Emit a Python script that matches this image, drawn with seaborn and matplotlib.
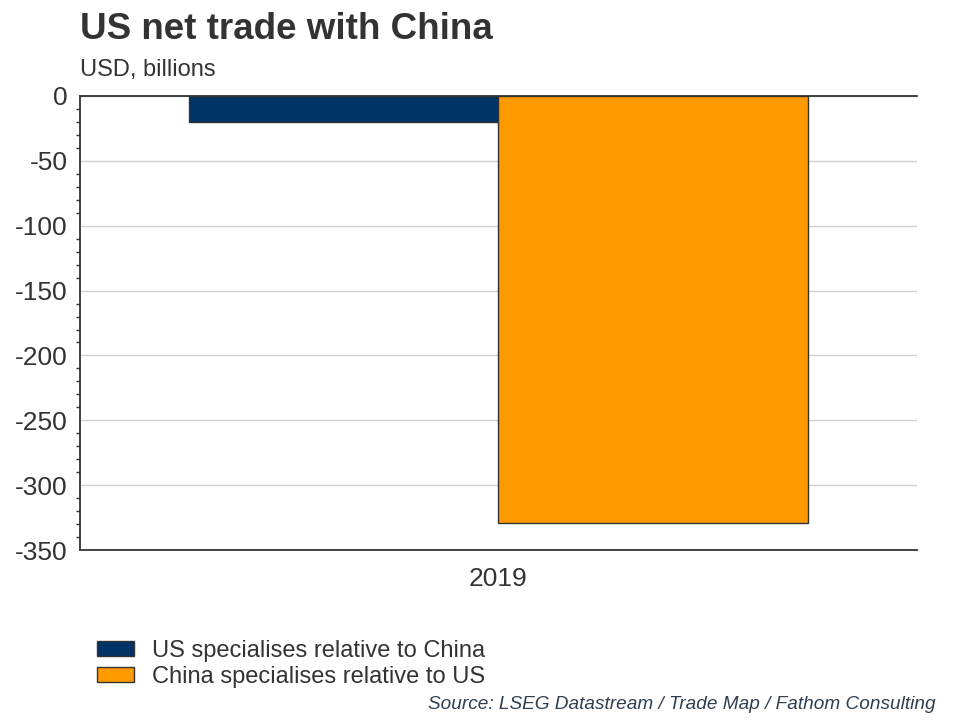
import pandas as pd
import matplotlib.pyplot as plt
import matplotlib.patches as mpatches
from matplotlib.ticker import MultipleLocator
import seaborn as sns

# Data
years = ["2019"]
series = ["US specialises relative to China", "China specialises relative to US"]
us_values = [-20]
china_values = [-329]
colors = ["#003366", "#FF9900"]

df = pd.DataFrame({
    "year": years * 2,
    "series": [series[0]] * len(years) + [series[1]] * len(years),
    "value": us_values + china_values,
})

sns.set_style("white")
plt.rcParams["font.family"] = ["Liberation Sans", "DejaVu Sans"]
plt.rcParams["axes.unicode_minus"] = False
text_color = "#333333"

fig = plt.figure(figsize=(9.6, 7.2), dpi=100)
ax = fig.add_axes([0.0833, 0.236, 0.8717, 0.6307])

sns.barplot(data=df, x="year", y="value", hue="series", palette=colors,
            saturation=1, width=0.74, edgecolor="#333333", linewidth=1,
            legend=False, ax=ax)

ax.set_ylim(-350, 0)
ax.set_xlim(-0.5, 0.5)
ax.yaxis.set_major_locator(MultipleLocator(50))
ax.yaxis.set_minor_locator(MultipleLocator(10))
ax.yaxis.grid(True, color="#d0d0d0", linewidth=1)
ax.set_axisbelow(True)

for side in ["left", "bottom", "top"]:
    ax.spines[side].set_color("#333333")
    ax.spines[side].set_linewidth(1.3)
ax.spines["right"].set_visible(False)

ax.tick_params(axis="y", which="major", direction="out", length=6, width=1,
               color="#333333", labelsize=19, labelcolor=text_color, pad=3)
ax.tick_params(axis="y", which="minor", direction="out", length=3, width=1,
               color="#333333", left=True)
ax.tick_params(axis="x", direction="out", length=6, width=1, color="#333333",
               labelsize=19, labelcolor=text_color, pad=6)
ax.set_xlabel("")
ax.set_ylabel("")

fig.text(0.0833, 0.946, "US net trade with China", fontsize=26.5, fontweight="bold",
         color=text_color, ha="left", va="baseline")
fig.text(0.0833, 0.894, "USD, billions", fontsize=17, color=text_color,
         ha="left", va="baseline")

handles = [mpatches.Patch(facecolor=c, edgecolor="#333333", linewidth=1, label=s)
           for c, s in zip(colors, series)]
fig.legend(handles=handles, loc="upper left", bbox_to_anchor=(0.101, 0.111),
           frameon=False, fontsize=17, handlelength=1.57, handleheight=0.6,
           labelspacing=0.17, handletextpad=0.76, borderaxespad=0,
           borderpad=0, labelcolor=text_color)

fig.text(0.975, 0.01, "Source: LSEG Datastream / Trade Map / Fathom Consulting",
         fontsize=13.7, style="italic", color="#2f3f4f", ha="right", va="bottom")

fig.savefig("out.png", dpi=100)
